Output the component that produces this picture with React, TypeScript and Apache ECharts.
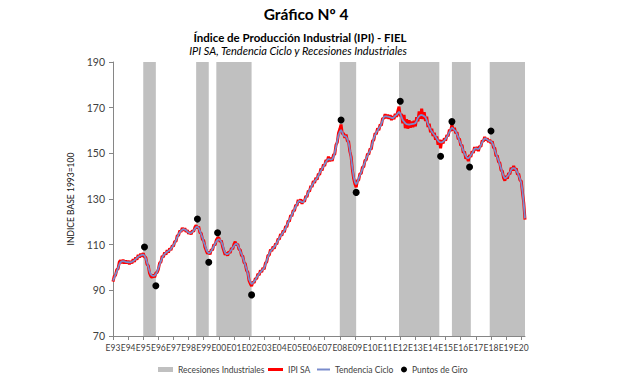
import React, { useEffect, useRef } from "react";
import * as echarts from "echarts";

// Monthly categories Jan 1993 .. Apr 2020
const START_YEAR = 1993;
const N_MONTHS = 328;
const months: string[] = [];
for (let i = 0; i < N_MONTHS; i++) {
  const y = START_YEAR + Math.floor(i / 12);
  const m = (i % 12) + 1;
  months.push(`${y}-${m < 10 ? "0" + m : m}`);
}

// Tendencia Ciclo
const trend: number[] = [
  94.3, 95.5, 97.0, 98.3, 99.8, 101.3, 102.3, 102.7, 102.8, 102.7, 102.5, 102.4, // 1993
  102.3, 102.2, 102.3, 102.5, 102.8, 103.2, 103.7, 104.2, 104.7, 105.1, 105.3, 105.5, // 1994
  105.6, 105.2, 104.0, 102.2, 100.3, 98.3, 97.0, 96.5, 96.3, 96.4, 97.0, 98.2, // 1995
  99.7, 101.3, 102.8, 104.2, 105.2, 105.9, 106.5, 106.9, 107.2, 107.6, 108.2, 109.0, // 1996
  109.8, 110.8, 112.0, 113.3, 114.5, 115.4, 116.1, 116.6, 116.8, 116.6, 116.3, 115.8, // 1997
  115.3, 115.0, 115.2, 115.6, 116.2, 117.0, 117.7, 117.9, 117.3, 116.0, 114.5, 113.0, // 1998
  111.2, 109.6, 108.0, 106.9, 106.3, 106.5, 107.3, 108.2, 109.3, 110.4, 111.4, 112.1, // 1999
  112.3, 112.0, 111.3, 109.8, 107.9, 106.4, 105.9, 105.9, 106.3, 107.0, 107.8, 108.6, // 2000
  109.4, 110.2, 110.5, 109.8, 108.6, 107.2, 105.9, 104.5, 102.8, 101.1, 99.3, 97.4, // 2001
  94.8, 93.6, 92.8, 93.2, 93.9, 94.6, 95.6, 96.5, 97.3, 98.0, 98.6, 99.2, // 2002
  99.8, 101.3, 103.0, 104.6, 106.0, 107.2, 107.8, 108.4, 109.0, 109.8, 110.8, 111.8, // 2003
  112.9, 113.8, 114.6, 115.4, 116.2, 117.2, 118.4, 119.6, 120.9, 122.0, 123.2, 124.3, // 2004
  125.5, 126.6, 127.8, 128.8, 129.2, 129.0, 128.6, 128.6, 129.5, 130.5, 131.6, 132.8, // 2005
  134.0, 135.0, 136.0, 137.0, 137.8, 138.5, 139.2, 140.2, 141.4, 142.4, 143.3, 144.2, // 2006
  145.2, 146.2, 147.0, 147.5, 147.4, 147.2, 147.4, 148.4, 150.3, 152.8, 155.5, 158.0, // 2007
  159.4, 160.2, 159.2, 157.8, 157.5, 157.3, 156.2, 154.4, 151.5, 147.8, 143.6, 139.8, // 2008
  137.5, 136.4, 137.4, 139.0, 140.4, 141.8, 143.2, 144.7, 146.2, 147.8, 149.0, 150.2, // 2009
  151.2, 152.6, 154.6, 156.6, 158.0, 159.2, 160.0, 161.0, 161.7, 163.0, 164.5, 166.0, // 2010
  166.2, 166.2, 166.1, 166.0, 165.8, 165.5, 165.4, 165.8, 166.4, 166.8, 167.5, 168.2, // 2011
  167.4, 166.0, 164.5, 163.9, 163.2, 162.8, 162.7, 162.6, 162.7, 162.8, 162.9, 163.0, // 2012
  163.2, 164.2, 165.6, 166.3, 166.7, 166.8, 166.6, 166.2, 165.8, 164.5, 162.8, 161.7, // 2013
  160.5, 159.5, 158.8, 158.0, 157.3, 156.4, 155.6, 155.0, 154.8, 154.8, 155.2, 155.7, // 2014
  156.3, 157.2, 158.2, 159.3, 160.4, 161.2, 160.8, 160.2, 159.7, 158.4, 157.1, 155.6, // 2015
  154.2, 152.8, 151.2, 150.0, 148.8, 148.0, 147.8, 148.4, 149.2, 150.0, 151.0, 152.0, // 2016
  152.2, 152.0, 151.8, 152.4, 153.6, 154.8, 155.8, 156.5, 156.4, 156.0, 155.6, 155.3, // 2017
  155.2, 154.6, 153.3, 151.5, 149.8, 148.3, 147.0, 145.2, 143.4, 141.6, 140.0, 139.0, // 2018
  139.3, 139.9, 140.6, 141.6, 142.8, 143.4, 143.5, 143.3, 142.6, 141.5, 140.3, 138.8, // 2019
  137.2, 133.5, 128.0, 121.5, // 2020
];

// IPI SA
const ipiSA: number[] = [
  93.8, 96.2, 96.6, 99.1, 99.4, 102.4, 103.1, 101.9, 103.4, 101.8, 103.0, 101.9, // 1993
  102.9, 101.5, 102.8, 101.8, 103.6, 102.5, 104.4, 103.4, 105.5, 104.3, 106.1, 104.8, // 1994
  106.3, 104.6, 104.5, 101.4, 100.8, 97.5, 96.2, 95.6, 96.9, 95.7, 97.6, 97.8, // 1995
  99.2, 102.0, 102.3, 105.0, 104.6, 106.6, 105.7, 107.6, 106.5, 108.3, 107.6, 109.6, // 1996
  109.3, 111.5, 111.4, 114.0, 114.0, 116.1, 115.6, 117.3, 116.2, 117.2, 115.7, 116.3, // 1997
  114.8, 115.6, 114.6, 116.2, 115.7, 117.6, 118.5, 117.2, 117.9, 115.3, 115.0, 112.3, // 1998
  111.8, 108.9, 107.4, 106.1, 106.9, 105.8, 107.9, 107.6, 110.0, 109.8, 112.0, 112.9, // 1999
  113.0, 111.3, 111.8, 109.1, 107.3, 105.6, 106.5, 105.2, 107.0, 106.4, 108.5, 108.0, // 2000
  110.1, 111.3, 109.8, 110.3, 107.9, 107.8, 105.2, 105.0, 102.2, 101.6, 98.7, 97.9, // 2001
  94.2, 92.9, 91.9, 93.8, 93.3, 95.2, 95.0, 97.2, 96.7, 98.7, 98.0, 99.8, // 2002
  99.2, 102.0, 102.4, 105.3, 105.4, 107.9, 107.2, 109.1, 108.3, 110.5, 110.2, 112.6, // 2003
  112.3, 114.6, 114.0, 116.2, 115.5, 118.0, 117.8, 120.4, 120.2, 122.9, 122.5, 125.1, // 2004
  124.8, 127.4, 127.1, 129.6, 128.6, 129.8, 127.9, 129.3, 128.8, 131.3, 130.9, 133.6, // 2005
  133.3, 135.8, 135.3, 137.8, 137.1, 139.3, 138.5, 141.0, 140.7, 143.3, 142.5, 145.1, // 2006
  144.5, 147.1, 146.3, 148.6, 146.6, 148.0, 146.7, 149.3, 149.6, 153.7, 154.8, 158.9, // 2007
  160.5, 162.6, 158.4, 158.8, 156.8, 158.2, 155.4, 155.2, 150.8, 148.5, 142.8, 139.0, // 2008
  136.6, 135.2, 138.1, 138.3, 141.2, 141.1, 144.0, 144.0, 147.0, 147.1, 149.8, 149.5, // 2009
  152.0, 151.8, 155.5, 155.8, 158.8, 158.4, 160.9, 160.2, 162.6, 162.2, 165.4, 165.2, // 2010
  167.1, 165.4, 166.9, 165.1, 166.7, 164.6, 166.3, 165.0, 167.3, 166.0, 168.4, 170.4, // 2011
  166.2, 167.3, 163.2, 166.8, 161.0, 164.9, 160.8, 164.5, 161.2, 163.9, 161.5, 164.2, // 2012
  161.8, 165.8, 164.0, 168.4, 165.2, 169.6, 165.0, 168.0, 164.2, 166.0, 161.5, 163.0, // 2013
  159.2, 160.8, 157.6, 159.0, 156.0, 157.4, 153.8, 156.0, 152.2, 155.8, 154.3, 156.6, // 2014
  155.6, 158.0, 157.5, 160.3, 159.8, 162.6, 160.0, 161.2, 158.8, 159.2, 156.3, 156.4, // 2015
  153.4, 153.6, 150.3, 150.8, 147.6, 148.6, 146.6, 149.2, 148.4, 150.9, 150.2, 152.8, // 2016
  151.4, 152.8, 151.0, 153.2, 152.9, 155.6, 155.2, 157.2, 155.7, 156.6, 154.9, 155.9, // 2017
  154.4, 155.3, 152.5, 152.3, 148.8, 149.0, 146.2, 145.9, 142.6, 142.2, 139.2, 138.0, // 2018
  140.1, 138.9, 141.4, 140.8, 143.7, 142.6, 144.5, 142.5, 143.4, 140.7, 141.0, 138.2, // 2019
  137.9, 132.8, 128.4, 121.0, // 2020
];

// Recesiones industriales (start, end)
const recessionStarts = ["1995-01", "1998-07", "1999-11", "2008-01", "2011-12", "2015-06", "2017-12"];
const recessionEnds = ["1995-11", "1999-05", "2002-03", "2009-02", "2014-08", "2016-09", "2020-04"];

// Puntos de giro
const turningDates = [
  "1995-02", "1995-11", "1998-08", "1999-05", "1999-12", "2002-03", "2008-02",
  "2009-02", "2012-01", "2014-09", "2015-06", "2016-08", "2018-01",
];
const turningValues = [109, 92, 121.2, 102.3, 115.2, 88, 164.6, 132.9, 172.8, 148.7, 163.9, 144, 159.8];

const FONT = "Lato, 'Liberation Sans', sans-serif";
const TXT = "#404040";

export default function App() {
  const ref = useRef<HTMLDivElement>(null);

  useEffect(() => {
    document.body.style.margin = "0";
    if (!ref.current) return;
    const chart = echarts.init(ref.current, undefined, { renderer: "svg" });

    const legendBase = {
      top: 360,
      orient: "horizontal" as const,
      itemGap: 5,
      selectedMode: false,
      textStyle: { fontFamily: FONT, fontSize: 8.5, color: TXT },
    };

    chart.setOption({
      animation: false,
      backgroundColor: "#ffffff",
      graphic: [
        {
          type: "text",
          x: 306,
          y: 14,
          style: {
            text: "Gráfico Nº 4",
            font: `bold 15.5px ${FONT}`,
            fill: "#000",
            textAlign: "center",
            textVerticalAlign: "middle",
          },
        },
        {
          type: "text",
          x: 300,
          y: 37,
          style: {
            text: "Índice de Producción Industrial (IPI) - FIEL",
            font: `bold 11.5px ${FONT}`,
            fill: "#000",
            textAlign: "center",
            textVerticalAlign: "middle",
          },
        },
        {
          type: "text",
          x: 298,
          y: 50,
          style: {
            text: "IPI SA, Tendencia Ciclo y Recesiones Industriales",
            font: `italic 11px ${FONT}`,
            fill: "#000",
            textAlign: "center",
            textVerticalAlign: "middle",
          },
        },
      ],
      legend: [
        {
          ...legendBase,
          left: 153,
          icon: "rect",
          itemWidth: 15,
          itemHeight: 5,
          data: ["Recesiones Industriales"],
        },
        {
          ...legendBase,
          left: 263,
          icon: "rect",
          itemWidth: 15,
          itemHeight: 3,
          data: ["IPI SA"],
        },
        {
          ...legendBase,
          left: 312,
          icon: "rect",
          itemWidth: 13,
          itemHeight: 2,
          data: ["Tendencia Ciclo"],
        },
        {
          ...legendBase,
          left: 396,
          icon: "circle",
          itemWidth: 6,
          itemHeight: 6,
          data: ["Puntos de Giro"],
        },
      ],
      grid: { left: 113, right: 96, top: 62, bottom: 44 },
      xAxis: {
        type: "category",
        data: months,
        boundaryGap: false,
        axisLine: { show: true, lineStyle: { color: "#868686", width: 1 } },
        axisTick: {
          show: true,
          interval: (i: number) => i % 12 === 0,
          length: 4,
          lineStyle: { color: "#868686" },
        },
        axisLabel: {
          interval: (i: number) => i % 12 === 0,
          formatter: (v: string) => "E" + v.slice(2, 4),
          fontFamily: FONT,
          fontSize: 8.5,
          color: TXT,
          margin: 7,
        },
        splitLine: { show: false },
      },
      yAxis: {
        type: "value",
        min: 70,
        max: 190,
        interval: 20,
        name: "INDICE BASE 1993=100",
        nameLocation: "middle",
        nameRotate: 90,
        nameGap: 38,
        nameTextStyle: { fontFamily: FONT, fontSize: 8.5, color: "#111" },
        axisLine: { show: true, lineStyle: { color: "#868686", width: 1 } },
        axisTick: { show: true, length: 4, lineStyle: { color: "#868686" } },
        axisLabel: { fontFamily: FONT, fontSize: 10.5, color: TXT, margin: 8 },
        splitLine: { show: false },
      },
      series: [
        {
          name: "Recesiones Industriales",
          type: "line",
          data: [],
          itemStyle: { color: "#c0c0c0" },
          lineStyle: { color: "#c0c0c0" },
        },
        {
          name: "IPI SA",
          type: "line",
          data: ipiSA,
          symbol: "none",
          itemStyle: { color: "#ff0000" },
          lineStyle: { color: "#ff0000", width: 3 },
          markArea: {
            silent: true,
            itemStyle: { color: "#c0c0c0" },
            data: recessionStarts.map((s, i) => [{ xAxis: s }, { xAxis: recessionEnds[i] }]),
          },
        },
        {
          name: "Tendencia Ciclo",
          type: "line",
          data: trend,
          symbol: "none",
          itemStyle: { color: "#7a8ccc" },
          lineStyle: { color: "#7a8ccc", width: 1.8 },
        },
        {
          name: "Puntos de Giro",
          type: "scatter",
          data: turningDates.map((d, i) => [d, turningValues[i]]),
          symbol: "circle",
          symbolSize: 7,
          itemStyle: { color: "#000000", opacity: 1 },
          z: 5,
        },
      ],
    });

    return () => chart.dispose();
  }, []);

  return <div ref={ref} style={{ width: 621, height: 380 }} />;
}
